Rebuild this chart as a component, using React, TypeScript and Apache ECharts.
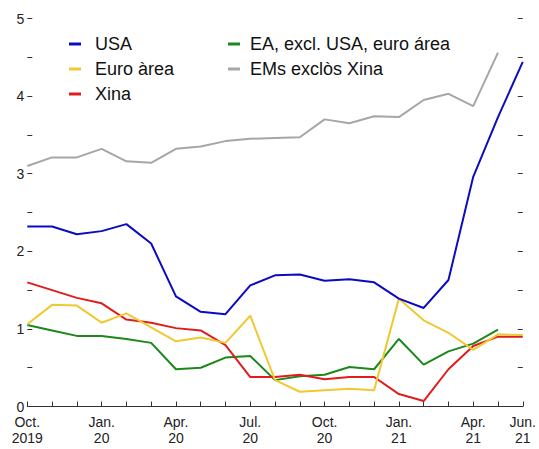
import React, { useEffect, useRef } from "react";
import * as echarts from "echarts";

const categories = [
  "2019-10", "2019-11", "2019-12", "2020-01", "2020-02", "2020-03", "2020-04",
  "2020-05", "2020-06", "2020-07", "2020-08", "2020-09", "2020-10", "2020-11",
  "2020-12", "2021-01", "2021-02", "2021-03", "2021-04", "2021-05", "2021-06",
];
const labelMonths = ["2019-10", "2020-01", "2020-04", "2020-07", "2020-10", "2021-01", "2021-04", "2021-06"];
const labelTexts = ["Oct.\n2019", "Jan.\n20", "Apr.\n20", "Jul.\n20", "Oct.\n20", "Jan.\n21", "Apr.\n21", "Jun.\n21"];

const usa = [2.32, 2.32, 2.22, 2.26, 2.35, 2.10, 1.42, 1.22, 1.19, 1.56, 1.69, 1.70, 1.62, 1.64, 1.60, 1.39, 1.27, 1.63, 2.96, 3.73, 4.44];
const euro = [1.06, 1.31, 1.30, 1.08, 1.20, 1.02, 0.84, 0.89, 0.82, 1.17, 0.34, 0.19, 0.21, 0.23, 0.21, 1.39, 1.11, 0.95, 0.73, 0.93, 0.92];
const xina = [1.60, 1.50, 1.40, 1.33, 1.12, 1.08, 1.01, 0.98, 0.79, 0.38, 0.38, 0.41, 0.35, 0.38, 0.38, 0.16, 0.07, 0.48, 0.78, 0.90, 0.90];
const ea = [1.05, 0.98, 0.91, 0.91, 0.87, 0.82, 0.48, 0.50, 0.63, 0.65, 0.34, 0.39, 0.41, 0.51, 0.48, 0.87, 0.54, 0.71, 0.81, 0.99, null];
const ems = [3.10, 3.21, 3.21, 3.32, 3.16, 3.14, 3.32, 3.35, 3.42, 3.45, 3.46, 3.47, 3.70, 3.65, 3.74, 3.73, 3.95, 4.03, 3.87, 4.56, null];

const names = ["USA", "Euro àrea", "Xina", "EA, excl. USA, euro área", "EMs exclòs Xina"];
const colors = ["#0b0bc4", "#f0c832", "#e01c1c", "#1c881c", "#a6a6a6"];

export default function App() {
  const ref = useRef<HTMLDivElement>(null);
  useEffect(() => {
    document.body.style.margin = "0";
    const chart = echarts.init(ref.current!, null, { renderer: "svg" });
    const font = "Liberation Sans, Arial, sans-serif";
    const seriesData = [usa, euro, xina, ea, ems];
    const legendText = { fontSize: 18, fontFamily: font, color: "#111", lineHeight: 18 };
    chart.setOption({
      animation: false,
      grid: { left: 27.3, right: 11.7, top: 18.5, bottom: 42.5, containLabel: false },
      legend: [
        {
          data: names.slice(0, 3),
          orient: "vertical",
          left: 69,
          top: 35,
          padding: 0,
          itemGap: 7,
          itemWidth: 12,
          itemHeight: 3,
          icon: "rect",
          textStyle: { ...legendText, padding: [0, 0, 0, 9] },
          selectedMode: false,
        },
        {
          data: names.slice(3),
          orient: "vertical",
          left: 228,
          top: 35,
          padding: 0,
          itemGap: 7,
          itemWidth: 12,
          itemHeight: 3,
          icon: "rect",
          textStyle: { ...legendText, padding: [0, 0, 0, 5] },
          selectedMode: false,
        },
      ],
      xAxis: {
        type: "category",
        data: categories,
        boundaryGap: false,
        axisLine: { lineStyle: { color: "#333", width: 1 } },
        axisTick: { inside: true, length: 5, interval: 0, lineStyle: { color: "#333" } },
        axisLabel: {
          interval: 0,
          margin: 7,
          fontSize: 14,
          lineHeight: 16,
          fontFamily: font,
          color: "#222",
          formatter: (v: string) => {
            const k = labelMonths.indexOf(v);
            return k >= 0 ? labelTexts[k] : "";
          },
        },
        splitLine: { show: false },
      },
      yAxis: [
        {
          type: "value",
          min: 0,
          max: 5,
          interval: 0.5,
          axisLine: { show: false },
          axisTick: { show: true, inside: true, length: 5, lineStyle: { color: "#333" } },
          axisLabel: {
            margin: 3,
            fontSize: 14,
            fontFamily: font,
            color: "#222",
            formatter: (v: number) => (Number.isInteger(v) ? String(v) : ""),
          },
          splitLine: { show: false },
        },
        {
          type: "value",
          position: "right",
          min: 0,
          max: 5,
          interval: 0.5,
          axisLine: { show: false },
          axisTick: { show: true, inside: true, length: 5, lineStyle: { color: "#333" } },
          axisLabel: { show: false },
          splitLine: { show: false },
        },
      ],
      series: names.map((n, i) => ({
        name: n,
        type: "line",
        data: seriesData[i],
        yAxisIndex: 0,
        symbol: "none",
        lineStyle: { color: colors[i], width: 2 },
        itemStyle: { color: colors[i] },
        z: 10 - i,
      })),
    });
    return () => chart.dispose();
  }, []);
  return <div ref={ref} style={{ width: 539, height: 449 }} />;
}
